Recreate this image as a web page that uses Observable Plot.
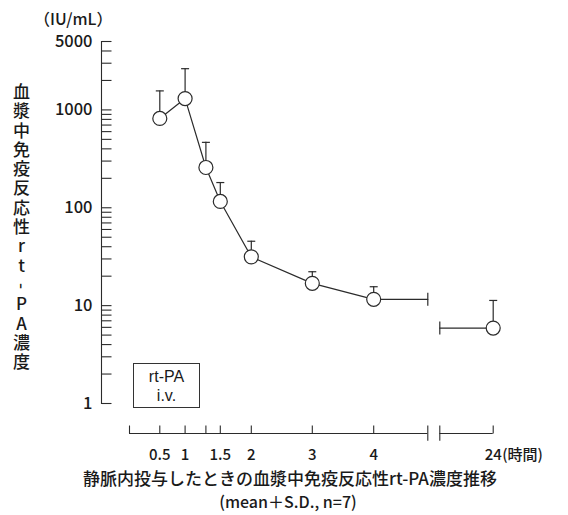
<!DOCTYPE html>
<html><head><meta charset="utf-8">
<script src="https://cdn.jsdelivr.net/npm/d3@7"></script>
<script src="https://cdn.jsdelivr.net/npm/@observablehq/plot@0.6"></script>
<style>
body{margin:0;background:#fff;}
#wrap{position:relative;width:568px;height:515px;font-family:"Noto Sans CJK JP","Noto Sans",sans-serif;color:#1a1a1a;font-weight:500;}
#chart svg{display:block;}
.unit{position:absolute;left:34px;top:8px;font-size:16px;line-height:20px;white-space:nowrap;}
.ytitle{position:absolute;left:11px;top:83px;font-size:17px;writing-mode:vertical-rl;text-orientation:upright;letter-spacing:2.3px;line-height:20px;white-space:nowrap;}
.ytitle .hy{display:inline-block;transform:rotate(90deg);}
.legend{position:absolute;left:133px;top:363px;width:67px;height:45px;border:1px solid #333;box-sizing:border-box;text-align:center;font-family:"Liberation Sans",Arial,sans-serif;font-size:16px;line-height:19px;padding-top:3px;}
.legend div{height:19px;}
.cap1{position:absolute;left:0;width:580px;top:467px;text-align:center;font-size:17px;line-height:22px;white-space:nowrap;}
.cap2{position:absolute;left:0;width:576px;top:490px;text-align:center;font-size:16px;line-height:22px;white-space:nowrap;}
</style></head><body>
<div id="wrap">
  <div id="chart"></div>
  <div class="unit">（IU/mL）</div>
  <div class="ytitle">血漿中免疫反応性rt<span class="hy">-</span>PA濃度</div>
  <div class="legend"><div>rt-PA</div><div>i.v.</div></div>
  <div class="cap1">静脈内投与したときの血漿中免疫反応性rt-PA濃度推移</div>
  <div class="cap2">(mean＋S.D., n=7)</div>
</div>
<script>
// ---- data (hours after start of i.v. administration) ----
const times = [0.5, 1, 1.25, 1.5, 2, 3, 4, 24];
const means = [818, 1306, 258, 116, 31.5, 16.9, 11.6, 5.9];   // IU/mL
const sds   = [746, 1331, 208, 65, 14.0, 5.3, 4.0, 5.4];      // S.D.

// ---- axis definitions ----
const xAxisStart = 0;
const xBreak = [5, 23];                       // broken-axis gap (hours)
const xTickValues = [0, 0.5, 1, 1.25, 1.5, 2, 3, 4, 24];
const xLabelValues = [0.5, 1, 1.5, 2, 3, 4, 24];
const xLabelTexts = ["0.5", "1", "1.5", "2", "3", "4", "24"];
const xUnit = "(時間)";
const yDomain = [1, 5000];
const yLabelValues = [1, 10, 100, 1000, 5000];

// piecewise (hand-drawn) time axis
const xDomain = [xAxisStart, 0.5, 1, 1.25, 1.5, 2, 3, 4, xBreak[0], xBreak[1], 24];
const xRange  = [129, 159.3, 184.6, 205.4, 219.8, 250.8, 311.8, 373.2, 427.3, 439.3, 492.7];

// log minor ticks
const yTicks = [];
for (const d of [1, 10, 100, 1000]) for (let k = 1; k <= 9; k++) if (d * k <= yDomain[1]) yTicks.push(d * k);

const data = times.map((t, i) => ({t, m: means[i], top: means[i] + sds[i]}));
const last = data.length - 1;
const lineData = [
  ...data.slice(0, last).map(d => ({t: d.t, v: d.m, s: 0})),
  {t: xBreak[0], v: data[last - 1].m, s: 0},
  {t: xBreak[1], v: data[last].m, s: 1},
  {t: data[last].t, v: data[last].m, s: 1}
];
const breakCaps = [{t: xBreak[0], v: data[last - 1].m}, {t: xBreak[1], v: data[last].m}];
const xAxisSegs = [{a: xAxisStart, b: xBreak[0]}, {a: xBreak[1], b: 24}];
const xLabels = xLabelValues.map((v, i) => ({v, s: xLabelTexts[i]}));

const len = s => Math.sqrt(s / Math.PI);
const tickUp    = {draw(c, s) { const l = len(s); c.moveTo(0, 0); c.lineTo(0, -l); }};
const tickRight = {draw(c, s) { const l = len(s); c.moveTo(0, 0); c.lineTo(l, 0); }};
const hbar      = {draw(c, s) { const l = len(s); c.moveTo(-l, 0); c.lineTo(l, 0); }};
const vbar      = {draw(c, s) { const l = len(s); c.moveTo(0, -l); c.lineTo(0, l); }};
const breakTick = {draw(c, s) { const l = len(s); c.moveTo(0, -l); c.lineTo(0, l * 0.9); }};

const ink = "#2b2b2b";
const one = () => yDomain[0];

const chart = Plot.plot({
  width: 568, height: 466,
  marginTop: 41, marginBottom: 63, marginLeft: 101, marginRight: 20,
  style: {fontFamily: '"Noto Sans CJK JP","Noto Sans",sans-serif', fontSize: "15px", color: "#1a1a1a", background: "transparent", fontWeight: 500},
  x: {type: "linear", domain: xDomain, range: xRange, axis: null},
  y: {type: "log", domain: yDomain, range: [403, 41], axis: null},
  marks: [
    // y axis
    Plot.frame({anchor: "left", stroke: ink, strokeWidth: 1.1}),
    Plot.dot(yTicks, {y: d => d, frameAnchor: "left", symbol: tickRight, r: 10, stroke: ink, fill: "none", strokeWidth: 1.1}),
    Plot.text(yLabelValues, {y: d => d, frameAnchor: "left", textAnchor: "end", dx: -9, text: d => String(d), fontSize: 16.5}),
    // x axis (broken)
    Plot.ruleY(xAxisSegs, {y: one, x1: "a", x2: "b", dy: 30, stroke: ink, strokeWidth: 1.1}),
    Plot.dot(xTickValues, {x: d => d, y: one, dy: 30, symbol: tickUp, r: 8, stroke: ink, fill: "none", strokeWidth: 1.1}),
    Plot.dot(xBreak, {x: d => d, y: one, dy: 30, symbol: breakTick, r: 8, stroke: ink, fill: "none", strokeWidth: 1.1}),
    Plot.text(xLabels, {x: "v", y: one, dy: 52, text: "s", fontSize: 15}),
    Plot.text([xUnit], {x: () => 24, y: one, dy: 52, dx: 9, textAnchor: "start", text: d => d, fontSize: 15}),
    // data
    Plot.line(lineData, {x: "t", y: "v", z: "s", stroke: ink, strokeWidth: 1.2}),
    Plot.dot(breakCaps, {x: "t", y: "v", symbol: vbar, r: 6.5, stroke: ink, fill: "none", strokeWidth: 1.2}),
    Plot.ruleX(data, {x: "t", y1: "m", y2: "top", stroke: ink, strokeWidth: 1.2}),
    Plot.dot(data, {x: "t", y: "top", symbol: hbar, r: 4, stroke: ink, fill: "none", strokeWidth: 1.2}),
    Plot.dot(data, {x: "t", y: "m", r: 7, fill: "white", stroke: ink, strokeWidth: 1.2})
  ]
});
document.getElementById("chart").appendChild(chart);
</script>
</body></html>
